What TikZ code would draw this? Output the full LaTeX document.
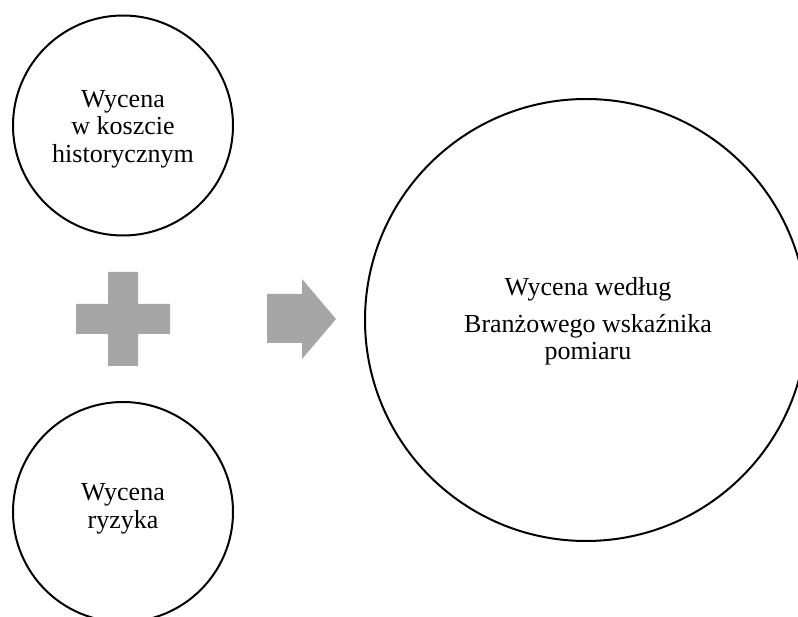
\documentclass[tikz,border=0pt]{standalone}
\usepackage{fontspec}
\setmainfont{Liberation Serif}
\usepackage{tikz}
\definecolor{shapegray}{HTML}{A6A6A6}
\tikzset{ring/.style={draw, circle, line width=2pt, inner sep=0pt, minimum size=#1}}
\tikzset{wtext/.style={align=center, font=\fontsize{26}{27.5}\selectfont}}

\begin{document}
\begin{tikzpicture}[x=1pt, y=-1pt]
\useasboundingbox (0,0) rectangle (798,617);
\node[ring=220pt] (hist) at (123,125.5) {};
\node[ring=220pt] (risk) at (123,512) {};
\node[ring=442pt] (bwp) at (586,320) {};
\node[wtext] (hist-txt) at (123,129) {Wycena\\w koszcie\\historycznym};
\node[wtext] (risk-txt) at (123,509) {Wycena\\ryzyka};
\node[wtext, font=\fontsize{26}{26.5}\selectfont] (bwp-txt) at (588,321) {Wycena według\\[11pt]Branżowego wskaźnika\\pomiaru};
\fill[shapegray] (108,272) -- (138,272) -- (138,304) -- (170,304) -- (170,334) -- (138,334)
  -- (138,366) -- (108,366) -- (108,334) -- (76,334) -- (76,304) -- (108,304) -- cycle;
\fill[shapegray] (267,294) -- (302,294) -- (302,279) -- (336,319) -- (302,359) -- (302,343)
  -- (267,343) -- cycle;
\end{tikzpicture}
\end{document}
